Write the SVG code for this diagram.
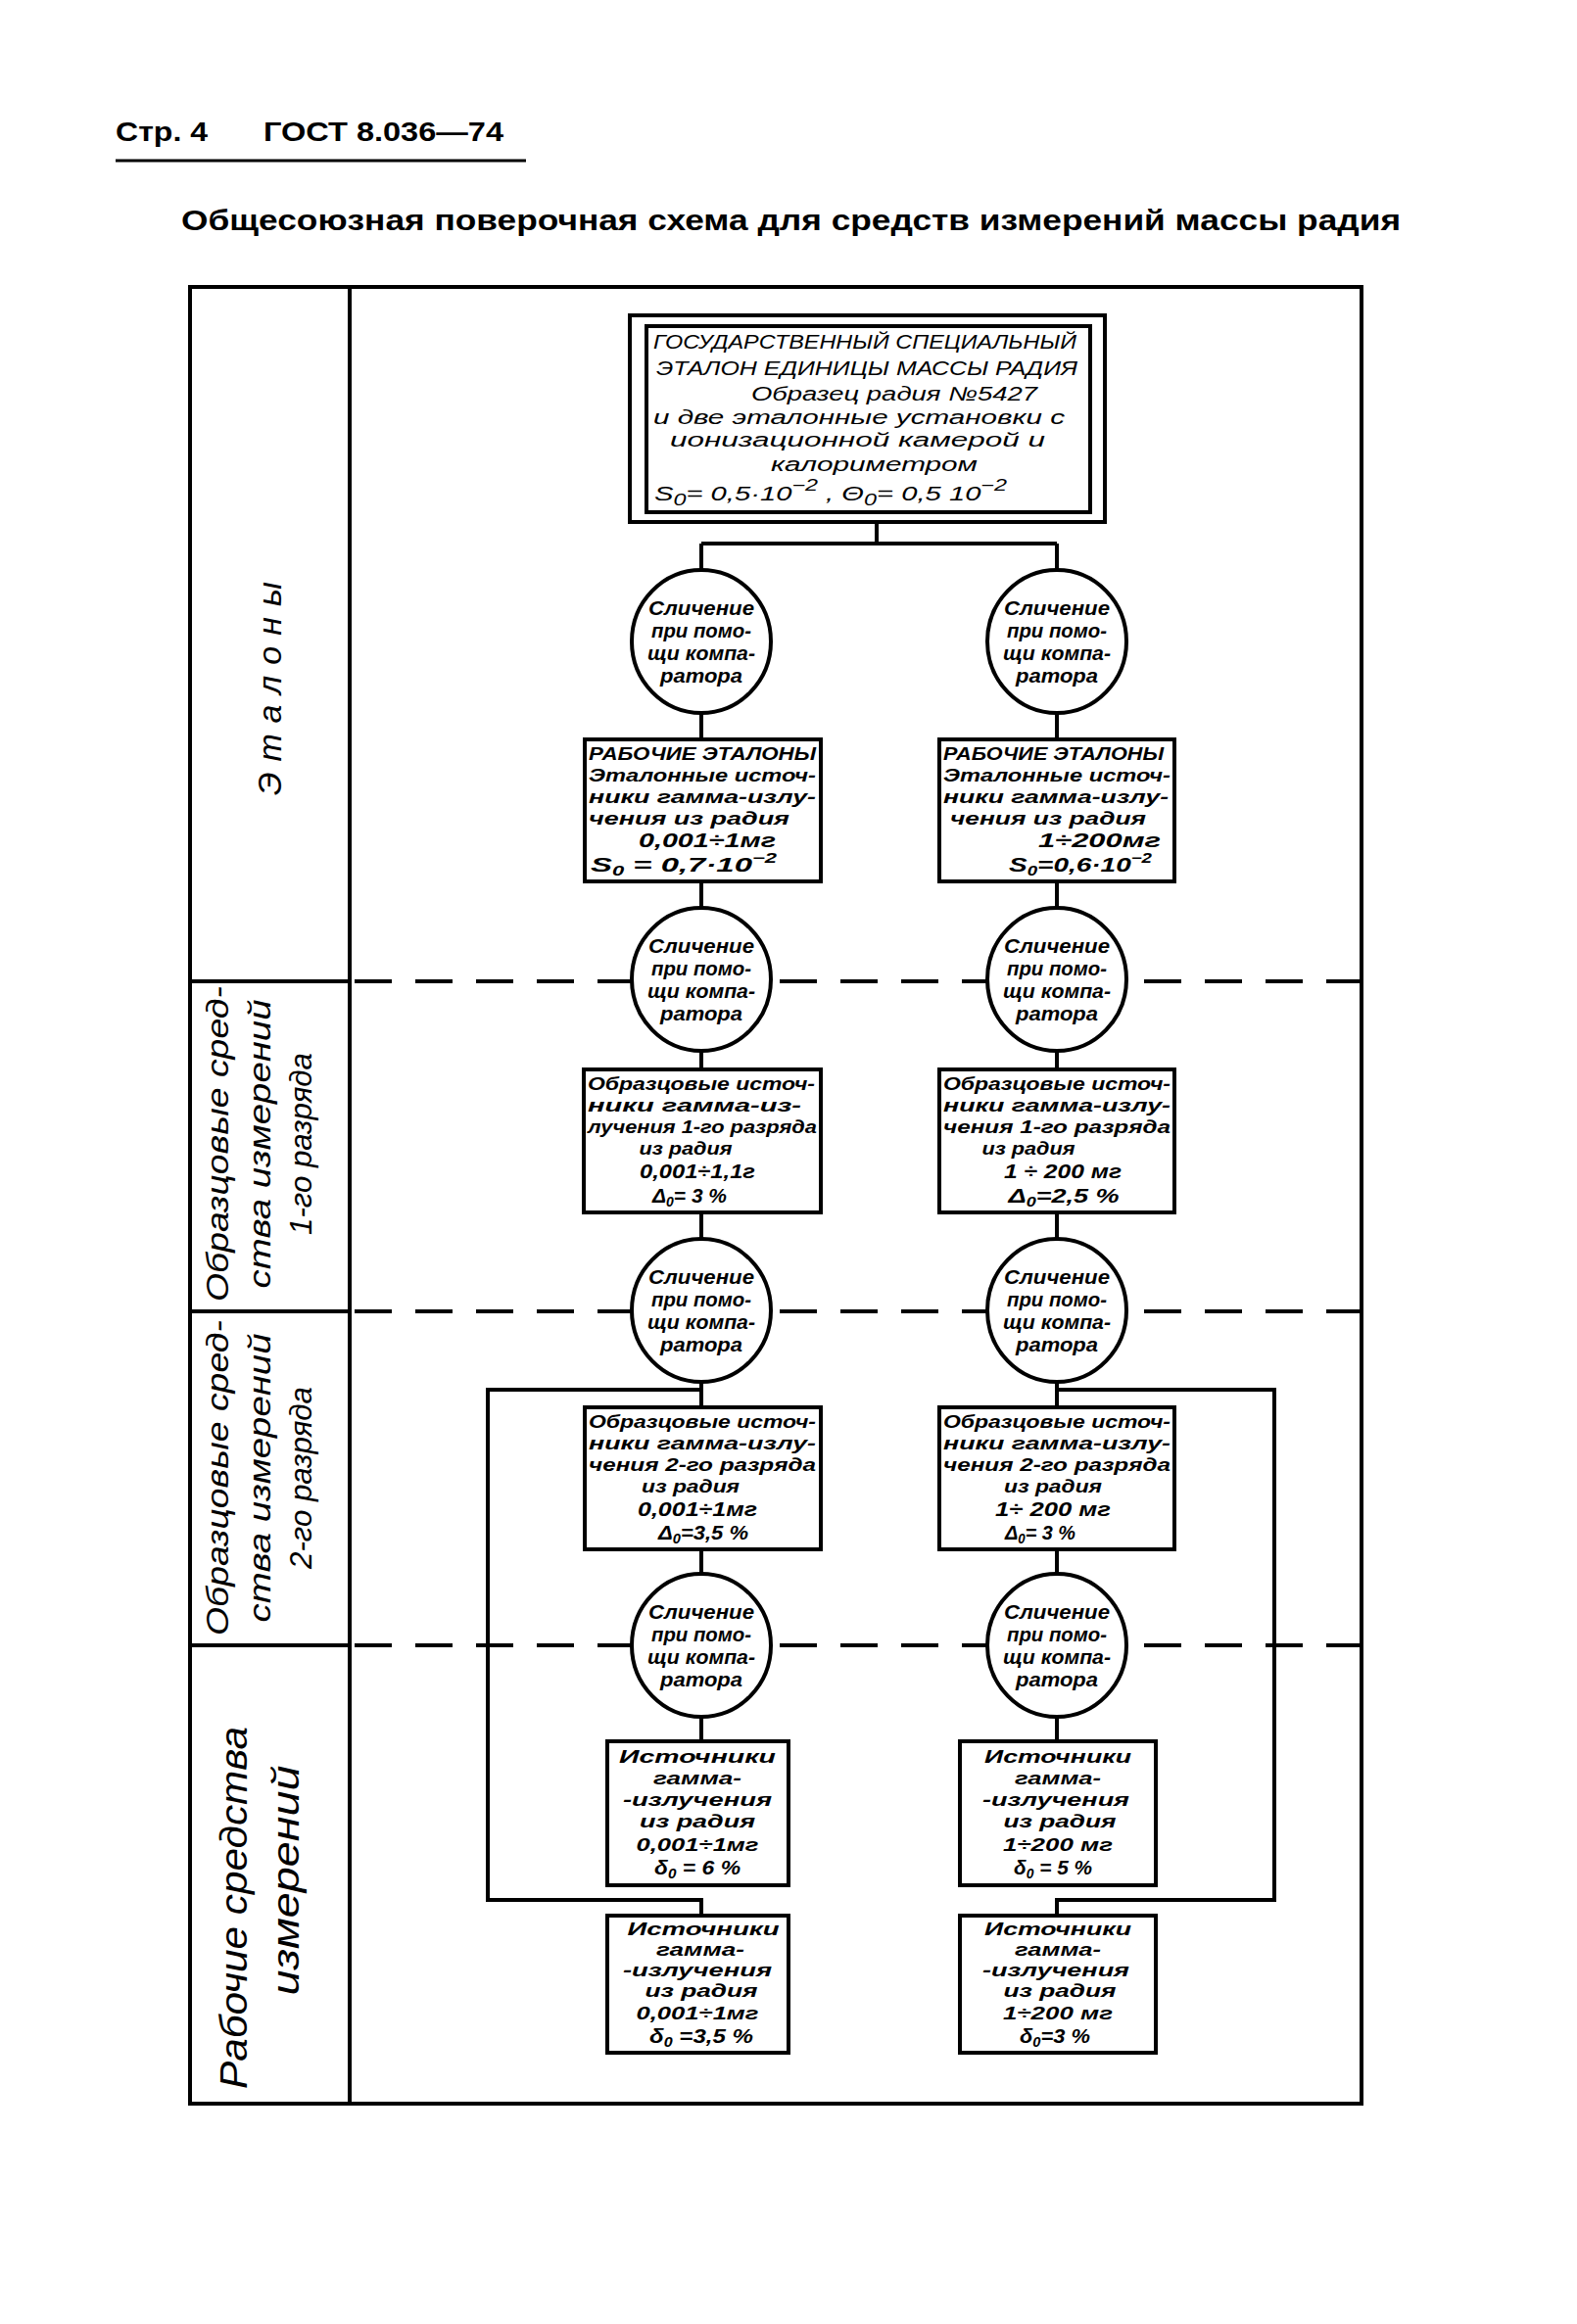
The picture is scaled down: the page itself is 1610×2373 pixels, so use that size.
<svg xmlns="http://www.w3.org/2000/svg" width="1610" height="2373" viewBox="0 0 1610 2373">
<style>
.t{font-family:"Liberation Sans","DejaVu Sans",sans-serif;font-style:italic;font-weight:bold;font-size:19px;fill:#000}
.tn{font-family:"Liberation Sans","DejaVu Sans",sans-serif;font-style:italic;font-size:20px;fill:#000}
.h{font-family:"Liberation Sans","DejaVu Sans",sans-serif;font-weight:bold;fill:#000}
.m{text-anchor:middle}
.ct{font-size:20px}
.v{font-size:20px}
.f{font-size:21px}
.w{font-size:19px}
.bx{fill:#fff;stroke:#000;stroke-width:4}
.ln{fill:none;stroke:#000;stroke-width:4}
.ds{fill:none;stroke:#000;stroke-width:4;stroke-dasharray:38 24}
.lab{font-family:"Liberation Sans","DejaVu Sans",sans-serif;font-style:italic;fill:#000;text-anchor:middle}
.sub{font-size:14px}
</style>
<rect width="1610" height="2373" fill="#fff"/>

<g id="header">
<text class="h" x="118" y="144" font-size="28" textLength="94" lengthAdjust="spacingAndGlyphs">Стр. 4</text>
<text class="h" x="269" y="144" font-size="28" textLength="245" lengthAdjust="spacingAndGlyphs">ГОСТ 8.036—74</text>
<line x1="118" y1="164" x2="537" y2="164" stroke="#000" stroke-width="3"/>
<text class="h" x="185" y="235" font-size="29" textLength="1245" lengthAdjust="spacingAndGlyphs">Общесоюзная поверочная схема для средств измерений массы радия</text>
</g>

<g id="frame">
<rect x="194" y="293" width="1196" height="1855" class="ln" stroke-width="5"/>
<line x1="357" y1="293" x2="357" y2="2148" class="ln"/>
<line x1="194" y1="1002" x2="357" y2="1002" class="ln" stroke-width="3"/>
<line x1="194" y1="1339" x2="357" y2="1339" class="ln" stroke-width="3"/>
<line x1="194" y1="1680" x2="357" y2="1680" class="ln" stroke-width="3"/>
<line x1="362" y1="1002" x2="1390" y2="1002" class="ds"/>
<line x1="362" y1="1339" x2="1390" y2="1339" class="ds"/>
<line x1="362" y1="1680" x2="1390" y2="1680" class="ds"/>
</g>

<g id="row-labels">
<text class="lab" font-size="34" transform="translate(287,703) rotate(-90)" textLength="218" lengthAdjust="spacing">Эталоны</text>
<g id="label-1">
<text class="lab" font-size="31" transform="translate(233,1168) rotate(-90)" textLength="322" lengthAdjust="spacingAndGlyphs">Образцовые сред-</text>
<text class="lab" font-size="31" transform="translate(276,1168) rotate(-90)" textLength="295" lengthAdjust="spacingAndGlyphs">ства измерений</text>
<text class="lab" font-size="31" transform="translate(318,1168) rotate(-90)" textLength="186" lengthAdjust="spacingAndGlyphs">1-го разряда</text>
</g>
<g id="label-2">
<text class="lab" font-size="31" transform="translate(233,1509) rotate(-90)" textLength="322" lengthAdjust="spacingAndGlyphs">Образцовые сред-</text>
<text class="lab" font-size="31" transform="translate(276,1509) rotate(-90)" textLength="295" lengthAdjust="spacingAndGlyphs">ства измерений</text>
<text class="lab" font-size="31" transform="translate(318,1509) rotate(-90)" textLength="186" lengthAdjust="spacingAndGlyphs">2-го разряда</text>
</g>
<g id="label-3">
<text class="lab" font-size="38" transform="translate(252,1948) rotate(-90)" textLength="370" lengthAdjust="spacingAndGlyphs">Рабочие средства</text>
<text class="lab" font-size="38" transform="translate(305,1920) rotate(-90)" textLength="235" lengthAdjust="spacingAndGlyphs">измерений</text>
</g>
</g>

<g id="connectors">
<path class="ln" d="M895,533 V555 M716,555 H1079 M716,555 V582 M1079,555 V582"/>
<path class="ln" d="M716,728 V755 M1079,728 V755"/>
<path class="ln" d="M716,900 V927 M1079,900 V927"/>
<path class="ln" d="M716,1073 V1092 M1079,1073 V1092"/>
<path class="ln" d="M716,1238 V1265 M1079,1238 V1265"/>
<path class="ln" d="M716,1411 V1437 M1079,1411 V1437"/>
<path class="ln" d="M716,1582 V1607 M1079,1582 V1607"/>
<path class="ln" d="M716,1753 V1778 M1079,1753 V1778"/>
<path class="ln" d="M716,1419 H498 V1940 H716 V1956"/>
<path class="ln" d="M1079,1419 H1301 V1940 H1079 V1956"/>
</g>

<g id="state-standard">
<rect x="643" y="322" width="485" height="211" class="bx"/>
<rect x="660" y="333" width="453" height="190" class="ln"/>
<text class="tn" x="667" y="356" font-size="21" textLength="432" lengthAdjust="spacingAndGlyphs">ГОСУДАРСТВЕННЫЙ СПЕЦИАЛЬНЫЙ</text>
<text class="tn" x="670" y="383" font-size="21" textLength="430" lengthAdjust="spacingAndGlyphs">ЭТАЛОН ЕДИНИЦЫ МАССЫ РАДИЯ</text>
<text class="tn" x="767" y="409" textLength="292" lengthAdjust="spacingAndGlyphs">Образец радия №5427</text>
<text class="tn" x="667" y="433" textLength="420" lengthAdjust="spacingAndGlyphs">и две эталонные установки с</text>
<text class="tn" x="684" y="456" textLength="383" lengthAdjust="spacingAndGlyphs">ионизационной камерой и</text>
<text class="tn" x="787" y="481" textLength="211" lengthAdjust="spacingAndGlyphs">калориметром</text>
<text class="tn" x="668" y="511" font-size="23" textLength="360" lengthAdjust="spacingAndGlyphs">S<tspan font-size="16" dy="5">0</tspan><tspan dy="-5">= 0,5·10</tspan><tspan font-size="16" dy="-10">−2</tspan><tspan dy="10"> ,  Θ</tspan><tspan font-size="16" dy="5">0</tspan><tspan dy="-5">= 0,5  10</tspan><tspan font-size="16" dy="-10">−2</tspan></text>
</g>

<g id="cmp-1L"><ellipse cx="716" cy="655" rx="71" ry="73" class="bx"/>
<text class="t ct m" x="716" y="628" textLength="108" lengthAdjust="spacingAndGlyphs">Сличение</text><text class="t ct m" x="716" y="651" textLength="102" lengthAdjust="spacingAndGlyphs">при помо-</text><text class="t ct m" x="716" y="674" textLength="110" lengthAdjust="spacingAndGlyphs">щи компа-</text><text class="t ct m" x="716" y="697" textLength="84" lengthAdjust="spacingAndGlyphs">ратора</text></g>
<g id="cmp-1R"><ellipse cx="1079" cy="655" rx="71" ry="73" class="bx"/>
<text class="t ct m" x="1079" y="628" textLength="108" lengthAdjust="spacingAndGlyphs">Сличение</text><text class="t ct m" x="1079" y="651" textLength="102" lengthAdjust="spacingAndGlyphs">при помо-</text><text class="t ct m" x="1079" y="674" textLength="110" lengthAdjust="spacingAndGlyphs">щи компа-</text><text class="t ct m" x="1079" y="697" textLength="84" lengthAdjust="spacingAndGlyphs">ратора</text></g>

<g id="work-std-L"><rect x="597" y="755" width="241" height="145" class="bx"/>
<text class="t" x="601" y="776" textLength="232" lengthAdjust="spacingAndGlyphs">РАБОЧИЕ ЭТАЛОНЫ</text>
<text class="t" x="601" y="798" textLength="232" lengthAdjust="spacingAndGlyphs">Эталонные источ-</text>
<text class="t" x="601" y="820" textLength="232" lengthAdjust="spacingAndGlyphs">ники гамма-излу-</text>
<text class="t" x="601" y="842" textLength="205" lengthAdjust="spacingAndGlyphs">чения из радия</text>
<text class="t v m" x="722" y="865" textLength="140" lengthAdjust="spacingAndGlyphs">0,001÷1мг</text>
<text class="t f" x="603" y="890" textLength="190" lengthAdjust="spacingAndGlyphs">S<tspan class="sub" dy="4">0</tspan><tspan dy="-4"> = 0,7·10</tspan><tspan class="sub" dy="-9">−2</tspan></text>
</g>
<g id="work-std-R"><rect x="959" y="755" width="240" height="145" class="bx"/>
<text class="t" x="963" y="776" textLength="225" lengthAdjust="spacingAndGlyphs">РАБОЧИЕ ЭТАЛОНЫ</text>
<text class="t" x="963" y="798" textLength="232" lengthAdjust="spacingAndGlyphs">Эталонные источ-</text>
<text class="t" x="963" y="820" textLength="230" lengthAdjust="spacingAndGlyphs">ники гамма-излу-</text>
<text class="t" x="970" y="842" textLength="200" lengthAdjust="spacingAndGlyphs">чения из радия</text>
<text class="t v" x="1060" y="865" textLength="125" lengthAdjust="spacingAndGlyphs">1÷200мг</text>
<text class="t f" x="1030" y="890" textLength="146" lengthAdjust="spacingAndGlyphs">S<tspan class="sub" dy="4">0</tspan><tspan dy="-4">=0,6·10</tspan><tspan class="sub" dy="-9">−2</tspan></text>
</g>

<g id="cmp-2L"><ellipse cx="716" cy="1000" rx="71" ry="73" class="bx"/>
<text class="t ct m" x="716" y="973" textLength="108" lengthAdjust="spacingAndGlyphs">Сличение</text><text class="t ct m" x="716" y="996" textLength="102" lengthAdjust="spacingAndGlyphs">при помо-</text><text class="t ct m" x="716" y="1019" textLength="110" lengthAdjust="spacingAndGlyphs">щи компа-</text><text class="t ct m" x="716" y="1042" textLength="84" lengthAdjust="spacingAndGlyphs">ратора</text></g>
<g id="cmp-2R"><ellipse cx="1079" cy="1000" rx="71" ry="73" class="bx"/>
<text class="t ct m" x="1079" y="973" textLength="108" lengthAdjust="spacingAndGlyphs">Сличение</text><text class="t ct m" x="1079" y="996" textLength="102" lengthAdjust="spacingAndGlyphs">при помо-</text><text class="t ct m" x="1079" y="1019" textLength="110" lengthAdjust="spacingAndGlyphs">щи компа-</text><text class="t ct m" x="1079" y="1042" textLength="84" lengthAdjust="spacingAndGlyphs">ратора</text></g>

<g id="ref1-L"><rect x="596" y="1092" width="242" height="146" class="bx"/>
<text class="t" x="600" y="1113" textLength="232" lengthAdjust="spacingAndGlyphs">Образцовые источ-</text>
<text class="t" x="600" y="1135" textLength="218" lengthAdjust="spacingAndGlyphs">ники гамма-из-</text>
<text class="t" x="600" y="1157" textLength="234" lengthAdjust="spacingAndGlyphs">лучения 1-го разряда</text>
<text class="t m" x="700" y="1179" textLength="95" lengthAdjust="spacingAndGlyphs">из радия</text>
<text class="t v m" x="712" y="1203" textLength="118" lengthAdjust="spacingAndGlyphs">0,001÷1,1г</text>
<text class="t f m" x="704" y="1228" textLength="76" lengthAdjust="spacingAndGlyphs">Δ<tspan class="sub" dy="4">0</tspan><tspan dy="-4">= 3 %</tspan></text>
</g>
<g id="ref1-R"><rect x="959" y="1092" width="240" height="146" class="bx"/>
<text class="t" x="963" y="1113" textLength="232" lengthAdjust="spacingAndGlyphs">Образцовые источ-</text>
<text class="t" x="963" y="1135" textLength="232" lengthAdjust="spacingAndGlyphs">ники гамма-излу-</text>
<text class="t" x="963" y="1157" textLength="232" lengthAdjust="spacingAndGlyphs">чения 1-го разряда</text>
<text class="t m" x="1050" y="1179" textLength="95" lengthAdjust="spacingAndGlyphs">из радия</text>
<text class="t v m" x="1085" y="1203" textLength="120" lengthAdjust="spacingAndGlyphs">1 ÷ 200 мг</text>
<text class="t f m" x="1086" y="1228" textLength="113" lengthAdjust="spacingAndGlyphs">Δ<tspan class="sub" dy="4">0</tspan><tspan dy="-4">=2,5 %</tspan></text>
</g>

<g id="cmp-3L"><ellipse cx="716" cy="1338" rx="71" ry="73" class="bx"/>
<text class="t ct m" x="716" y="1311" textLength="108" lengthAdjust="spacingAndGlyphs">Сличение</text><text class="t ct m" x="716" y="1334" textLength="102" lengthAdjust="spacingAndGlyphs">при помо-</text><text class="t ct m" x="716" y="1357" textLength="110" lengthAdjust="spacingAndGlyphs">щи компа-</text><text class="t ct m" x="716" y="1380" textLength="84" lengthAdjust="spacingAndGlyphs">ратора</text></g>
<g id="cmp-3R"><ellipse cx="1079" cy="1338" rx="71" ry="73" class="bx"/>
<text class="t ct m" x="1079" y="1311" textLength="108" lengthAdjust="spacingAndGlyphs">Сличение</text><text class="t ct m" x="1079" y="1334" textLength="102" lengthAdjust="spacingAndGlyphs">при помо-</text><text class="t ct m" x="1079" y="1357" textLength="110" lengthAdjust="spacingAndGlyphs">щи компа-</text><text class="t ct m" x="1079" y="1380" textLength="84" lengthAdjust="spacingAndGlyphs">ратора</text></g>

<g id="ref2-L"><rect x="597" y="1437" width="241" height="145" class="bx"/>
<text class="t" x="601" y="1458" textLength="232" lengthAdjust="spacingAndGlyphs">Образцовые источ-</text>
<text class="t" x="601" y="1480" textLength="232" lengthAdjust="spacingAndGlyphs">ники гамма-излу-</text>
<text class="t" x="601" y="1502" textLength="232" lengthAdjust="spacingAndGlyphs">чения 2-го разряда</text>
<text class="t m" x="705" y="1524" textLength="100" lengthAdjust="spacingAndGlyphs">из радия</text>
<text class="t v m" x="712" y="1548" textLength="122" lengthAdjust="spacingAndGlyphs">0,001÷1мг</text>
<text class="t f m" x="718" y="1572" textLength="92" lengthAdjust="spacingAndGlyphs">Δ<tspan class="sub" dy="4">0</tspan><tspan dy="-4">=3,5 %</tspan></text>
</g>
<g id="ref2-R"><rect x="959" y="1437" width="240" height="145" class="bx"/>
<text class="t" x="963" y="1458" textLength="232" lengthAdjust="spacingAndGlyphs">Образцовые источ-</text>
<text class="t" x="963" y="1480" textLength="232" lengthAdjust="spacingAndGlyphs">ники гамма-излу-</text>
<text class="t" x="963" y="1502" textLength="232" lengthAdjust="spacingAndGlyphs">чения 2-го разряда</text>
<text class="t m" x="1075" y="1524" textLength="100" lengthAdjust="spacingAndGlyphs">из радия</text>
<text class="t v m" x="1075" y="1548" textLength="118" lengthAdjust="spacingAndGlyphs">1÷ 200 мг</text>
<text class="t f m" x="1062" y="1572" textLength="72" lengthAdjust="spacingAndGlyphs">Δ<tspan class="sub" dy="4">0</tspan><tspan dy="-4">= 3 %</tspan></text>
</g>

<g id="cmp-4L"><ellipse cx="716" cy="1680" rx="71" ry="73" class="bx"/>
<text class="t ct m" x="716" y="1653" textLength="108" lengthAdjust="spacingAndGlyphs">Сличение</text><text class="t ct m" x="716" y="1676" textLength="102" lengthAdjust="spacingAndGlyphs">при помо-</text><text class="t ct m" x="716" y="1699" textLength="110" lengthAdjust="spacingAndGlyphs">щи компа-</text><text class="t ct m" x="716" y="1722" textLength="84" lengthAdjust="spacingAndGlyphs">ратора</text></g>
<g id="cmp-4R"><ellipse cx="1079" cy="1680" rx="71" ry="73" class="bx"/>
<text class="t ct m" x="1079" y="1653" textLength="108" lengthAdjust="spacingAndGlyphs">Сличение</text><text class="t ct m" x="1079" y="1676" textLength="102" lengthAdjust="spacingAndGlyphs">при помо-</text><text class="t ct m" x="1079" y="1699" textLength="110" lengthAdjust="spacingAndGlyphs">щи компа-</text><text class="t ct m" x="1079" y="1722" textLength="84" lengthAdjust="spacingAndGlyphs">ратора</text></g>

<g id="work-1L"><rect x="620" y="1778" width="185" height="147" class="bx"/>
<text class="t w m" x="712" y="1800" textLength="160" lengthAdjust="spacingAndGlyphs">Источники</text>
<text class="t w m" x="712" y="1822" textLength="90" lengthAdjust="spacingAndGlyphs">гамма-</text>
<text class="t w m" x="712" y="1844" textLength="152" lengthAdjust="spacingAndGlyphs">-излучения</text>
<text class="t w m" x="712" y="1866" textLength="118" lengthAdjust="spacingAndGlyphs">из радия</text>
<text class="t w m" x="712" y="1890" textLength="125" lengthAdjust="spacingAndGlyphs">0,001÷1мг</text>
<text class="t f m" x="712" y="1914" textLength="88" lengthAdjust="spacingAndGlyphs">δ<tspan class="sub" dy="4">0</tspan><tspan dy="-4"> = 6 %</tspan></text>
</g>
<g id="work-1R"><rect x="980" y="1778" width="200" height="147" class="bx"/>
<text class="t w m" x="1080" y="1800" textLength="150" lengthAdjust="spacingAndGlyphs">Источники</text>
<text class="t w m" x="1080" y="1822" textLength="88" lengthAdjust="spacingAndGlyphs">гамма-</text>
<text class="t w m" x="1078" y="1844" textLength="150" lengthAdjust="spacingAndGlyphs">-излучения</text>
<text class="t w m" x="1082" y="1866" textLength="115" lengthAdjust="spacingAndGlyphs">из радия</text>
<text class="t w m" x="1080" y="1890" textLength="112" lengthAdjust="spacingAndGlyphs">1÷200 мг</text>
<text class="t f m" x="1075" y="1914" textLength="80" lengthAdjust="spacingAndGlyphs">δ<tspan class="sub" dy="4">0</tspan><tspan dy="-4"> = 5 %</tspan></text>
</g>

<g id="work-2L"><rect x="620" y="1956" width="185" height="140" class="bx"/>
<text class="t w m" x="718" y="1976" textLength="155" lengthAdjust="spacingAndGlyphs">Источники</text>
<text class="t w m" x="715" y="1997" textLength="90" lengthAdjust="spacingAndGlyphs">гамма-</text>
<text class="t w m" x="712" y="2018" textLength="152" lengthAdjust="spacingAndGlyphs">-излучения</text>
<text class="t w m" x="716" y="2039" textLength="115" lengthAdjust="spacingAndGlyphs">из радия</text>
<text class="t w m" x="712" y="2062" textLength="125" lengthAdjust="spacingAndGlyphs">0,001÷1мг</text>
<text class="t f m" x="716" y="2086" textLength="106" lengthAdjust="spacingAndGlyphs">δ<tspan class="sub" dy="4">0</tspan><tspan dy="-4"> =3,5 %</tspan></text>
</g>
<g id="work-2R"><rect x="980" y="1956" width="200" height="140" class="bx"/>
<text class="t w m" x="1080" y="1976" textLength="150" lengthAdjust="spacingAndGlyphs">Источники</text>
<text class="t w m" x="1080" y="1997" textLength="88" lengthAdjust="spacingAndGlyphs">гамма-</text>
<text class="t w m" x="1078" y="2018" textLength="150" lengthAdjust="spacingAndGlyphs">-излучения</text>
<text class="t w m" x="1082" y="2039" textLength="115" lengthAdjust="spacingAndGlyphs">из радия</text>
<text class="t w m" x="1080" y="2062" textLength="112" lengthAdjust="spacingAndGlyphs">1÷200 мг</text>
<text class="t f m" x="1077" y="2086" textLength="72" lengthAdjust="spacingAndGlyphs">δ<tspan class="sub" dy="4">0</tspan><tspan dy="-4">=3 %</tspan></text>
</g>
</svg>
